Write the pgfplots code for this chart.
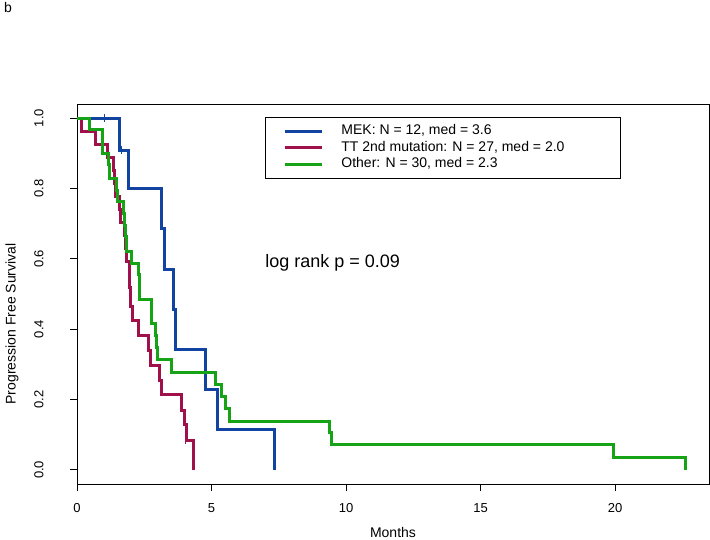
\documentclass[border=0pt]{standalone}
\usepackage{pgfplots}
\pgfplotsset{compat=1.18}
\usepackage{fontspec}
\setmainfont{Liberation Sans}
\definecolor{kmblue}{RGB}{16,68,160}
\definecolor{kmred}{RGB}{160,16,74}
\definecolor{kmgreen}{RGB}{22,163,22}
\begin{document}
\begin{tikzpicture}[x=1pt,y=1pt]
\path[use as bounding box] (0,0) rectangle (710,540);
\node[anchor=base west,font=\fontsize{14}{16}\selectfont,inner sep=0pt] at (4,527) {b};
\begin{axis}[
  at={(77pt,56pt)}, anchor=south west,
  scale only axis, width=632pt, height=380pt,
  xmin=0, xmax=23.49, ymin=-0.04, ymax=1.04,
  axis line style={line width=0.9pt},
  tick style={line width=0.9pt, black},
  tick align=outside, major tick length=7pt,
  xtick={0,5,10,15,20}, ytick={0,0.2,0.4,0.6,0.8,1.0},
  xtick pos=bottom, ytick pos=left,
  /pgf/number format/assume math mode=true,
  yticklabel={\rotatebox{90}{\pgfmathprintnumber[fixed,precision=1,fixed zerofill]{\tick}}},
  yticklabel style={anchor=east, xshift=-23pt, font=\fontsize{13}{15}\selectfont},
  xticklabel style={font=\fontsize{13}{15}\selectfont},
  xticklabel shift=9pt,
  xlabel={Months}, ylabel={Progression Free Survival},
  label style={font=\fontsize{14}{16}\selectfont},
  xlabel style={at={(axis description cs:0.5,-0.128)}, anchor=center},
  ylabel style={at={(axis description cs:-0.103,0.421)}, anchor=center, rotate=0},
  legend style={at={(axis description cs:0.2975,0.9658)}, anchor=north west,
    draw=black, line width=0.8pt, inner xsep=18pt, inner ysep=7.5pt,
    font=\fontsize{14}{16}\selectfont, row sep=3.5pt,
    nodes={inner sep=0pt, text height=10pt, text depth=3pt},
    /tikz/every odd column/.append style={column sep=18pt}},
  legend cell align=left,
  legend image code/.code={\draw[#1, line width=3pt] (0pt,0pt) -- (37pt,0pt);},
]
\addplot[kmblue, line width=3pt, const plot] coordinates {
(0,1) (1.57,0.909) (1.93,0.80) (3.15,0.686) (3.27,0.571) (3.58,0.457) (3.66,0.343) (4.78,0.229) (5.22,0.114) (7.33,0.0)};
\addlegendentry{\makebox[261pt][l]{MEK: N = 12, med = 3.6}}
\addplot[kmred, line width=3pt, const plot] coordinates {
(0,1) (0.17,0.963) (0.69,0.926) (1.13,0.889) (1.35,0.852) (1.38,0.815) (1.42,0.778) (1.57,0.741) (1.60,0.704) (1.76,0.667) (1.80,0.630) (1.85,0.593) (1.94,0.556) (1.96,0.519) (2.00,0.465) (2.07,0.425) (2.28,0.382) (2.65,0.340) (2.74,0.297) (3.06,0.255) (3.15,0.213) (3.89,0.170) (4.01,0.128) (4.08,0.085) (4.32,0.0)};
\addlegendentry{\makebox[261pt][l]{TT 2nd mutation: N = 27, med = 2.0}}
\addplot[kmgreen, line width=3pt, const plot] coordinates {
(0,1) (0.48,0.967) (0.93,0.933) (0.96,0.900) (1.16,0.867) (1.20,0.828) (1.45,0.795) (1.50,0.763) (1.72,0.730) (1.76,0.696) (1.80,0.662) (1.85,0.620) (2.03,0.588) (2.30,0.554) (2.32,0.519) (2.34,0.484) (2.76,0.450) (2.78,0.416) (2.93,0.382) (2.96,0.348) (2.98,0.314) (3.50,0.278) (5.16,0.243) (5.38,0.210) (5.52,0.175) (5.66,0.139) (9.40,0.105) (9.47,0.071) (19.94,0.035) (22.63,0.0)};
\addlegendentry{\makebox[261pt][l]{Other: N = 30, med = 2.3}}
\addplot[kmblue, only marks, mark=|, mark size=4pt, mark options={line width=1pt}, forget plot] coordinates {(1.04,1.0) (1.64,0.909)};
\addplot[kmred, only marks, mark=|, mark size=4pt, mark options={line width=1pt}, forget plot] coordinates {(4.02,0.085)};
\node[anchor=west, inner sep=0pt, font=\fontsize{18}{20}\selectfont] at (axis cs:6.99,0.589) {log rank p = 0.09};
\end{axis}
\end{tikzpicture}
\end{document}
